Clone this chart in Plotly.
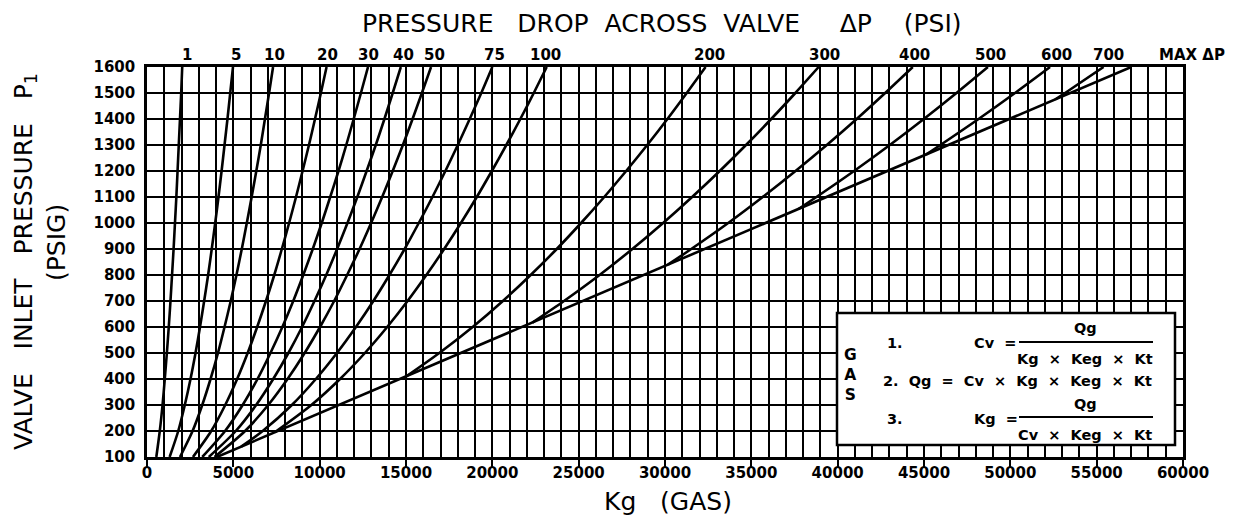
import plotly.graph_objects as go

# ---------------------------------------------------------------------------
# Gas sizing chart: Kg versus valve inlet pressure for constant pressure drops
# ---------------------------------------------------------------------------

# Inlet pressure grid (psig) used by the curve tables below
P_PSIG = [100, 200, 300, 400, 500, 600, 700, 800, 900, 1000, 1100, 1200, 1300, 1400, 1500, 1600]

# Kg along each constant-ΔP curve at the pressures above (None: curve lies on MAX ΔP there)
KG_DP1 = [540, 740, 900, 1030, 1150, 1260, 1360, 1450, 1540, 1620, 1700, 1770, 1840, 1910, 1980, 2040]
KG_DP5 = [1310, 1810, 2190, 2520, 2810, 3070, 3310, 3540, 3750, 3950, 4140, 4320, 4490, 4660, 4820, 4980]
KG_DP10 = [1910, 2640, 3200, 3680, 4110, 4490, 4850, 5180, 5490, 5780, 6060, 6330, 6590, 6830, 7070, 7300]
KG_DP20 = [2660, 3720, 4530, 5220, 5830, 6380, 6890, 7370, 7810, 8230, 8630, 9010, 9380, 9730, 10070, 10400]
KG_DP30 = [3200, 4520, 5540, 6400, 7150, 7840, 8470, 9050, 9600, 10120, 10610, 11090, 11540, 11970, 12390, 12800]
KG_DP40 = [3580, 5140, 6320, 7310, 8190, 8980, 9700, 10380, 11010, 11610, 12180, 12720, 13250, 13750, 14230, 14700]
KG_DP50 = [3910, 5680, 7020, 8140, 9130, 10020, 10840, 11590, 12310, 12980, 13620, 14230, 14820, 15380, 15920, 16450]
KG_DP75 = [None, 6700, 8390, 9780, 11000, 12100, 13110, 14040, 14920, 15740, 16530, 17280, 18000, 18690, 19360, 20000]
KG_DP100 = [None, None, 9520, 11180, 12620, 13910, 15090, 16180, 17210, 18180, 19100, 19970, 20810, 21620, 22400, 23150]
KG_DP200 = [None, None, None, None, 16930, 18860, 20610, 22220, 23730, 25140, 26480, 27750, 28970, 30140, 31260, 32350]
KG_DP300 = [None] * 6 + [24150, 26210, 28110, 29890, 31570, 33170, 34690, 36150, 37550, 38900]
KG_DP400 = [None] * 8 + [31520, 33660, 35660, 37560, 39370, 41100, 42750, 44350]
KG_DP500 = [None] * 10 + [38770, 40950, 43020, 44990, 46880, 48700]
KG_DP600 = [None] * 12 + [45950, 48160, 50270, 52300]
KG_DP700 = [None] * 14 + [53170, 55400]
KG_MAX = [4050, 7580, 11110, 14640, 18170, 21700, 25230, 28760, 32290,
          35820, 39350, 42880, 46410, 49940, 53470, 57000]

DP_VALUES = [1, 5, 10, 20, 30, 40, 50, 75, 100, 200, 300, 400, 500, 600, 700]
DP_TABLES = [KG_DP1, KG_DP5, KG_DP10, KG_DP20, KG_DP30, KG_DP40, KG_DP50, KG_DP75,
             KG_DP100, KG_DP200, KG_DP300, KG_DP400, KG_DP500, KG_DP600, KG_DP700]

# Point where each higher-ΔP curve branches off the MAX ΔP line
JOIN_P = [None] * 7 + [140, 195, 408, 617, 840, 1054, 1263, 1475]
JOIN_KG = [None] * 7 + [5455, 7400, 14970, 22320, 30170, 37730, 45110, 52590]

# Top scale: ΔP labels and the Kg where each sits
DP_LABELS = ["1", "5", "10", "20", "30", "40", "50", "75", "100", "200",
             "300", "400", "500", "600", "700", "MAX ΔP"]
DP_LABEL_KG = [2330, 5170, 7370, 10440, 12810, 14840, 16640, 20110, 23060,
               32560, 39220, 44430, 48830, 52650, 55660, 60530]

X_RANGE = [0, 60000]
Y_RANGE = [100, 1600]
X_TICKS = list(range(0, 60001, 5000))

# ---------------------------------------------------------------------------
W, H = 1233, 521
L, R, T, B = 147, 50, 67, 64
PW, PH = W - L - R, H - T - B


def fx(px):
    """page x pixel -> paper coordinate"""
    return (px - L) / PW


def fy(py):
    """page y pixel -> paper coordinate"""
    return (H - B - py) / PH


def kg_to_paper(kg):
    """Kg value -> paper coordinate along the x axis (also valid past the range)"""
    return (kg - X_RANGE[0]) / (X_RANGE[1] - X_RANGE[0])


TITLE_FONT = dict(family="DejaVu Sans", size=25, color="black")
NUM_FONT = dict(family="DejaVu Sans", size=15, color="black", weight="bold")
BOX_FONT = dict(family="DejaVu Sans", size=14.5, color="black", weight="bold")
NB = "\u00a0"

fig = go.Figure()

for dp, table, jp, jk in zip(DP_VALUES, DP_TABLES, JOIN_P, JOIN_KG):
    xs, ys = [], []
    if jp is not None:
        xs.append(jk)
        ys.append(jp)
    for p, k in zip(P_PSIG, table):
        if k is not None:
            xs.append(k)
            ys.append(p)
    fig.add_trace(go.Scatter(
        x=xs, y=ys, mode="lines", name=f"ΔP {dp}",
        line=dict(color="black", width=2.6, shape="spline", smoothing=0.8),
        hoverinfo="skip"))

fig.add_trace(go.Scatter(
    x=KG_MAX, y=P_PSIG, mode="lines", name="MAX ΔP",
    line=dict(color="black", width=2.6), hoverinfo="skip"))

fig.update_layout(
    width=W, height=H,
    margin=dict(l=L, r=R, t=T, b=B),
    paper_bgcolor="white", plot_bgcolor="white",
    showlegend=False,
    xaxis=dict(
        range=X_RANGE, tickvals=X_TICKS, ticktext=[str(v) for v in X_TICKS],
        ticks="outside", ticklen=7, tickwidth=2, tickcolor="black",
        ticklabelstandoff=-7,
        showgrid=True, gridcolor="black", gridwidth=2,
        minor=dict(dtick=1000, tick0=0, showgrid=True, gridcolor="black", gridwidth=2),
        showline=True, linecolor="black", linewidth=2.5, mirror=True,
        zeroline=False, tickfont=NUM_FONT, fixedrange=True,
    ),
    yaxis=dict(
        range=Y_RANGE, tickvals=P_PSIG, ticktext=[str(v) for v in P_PSIG],
        ticks="", ticklabelstandoff=6,
        showgrid=True, gridcolor="black", gridwidth=2,
        showline=True, linecolor="black", linewidth=2.5, mirror=True,
        zeroline=False, tickfont=NUM_FONT, fixedrange=True,
    ),
)

ann = []

# titles
ann.append(dict(
    text=("PRESSURE" + NB * 3 + "DROP" + NB * 2 + "ACROSS" + NB * 2 + "VALVE"
          + NB * 5 + "ΔP" + NB * 4 + "(PSI)"),
    x=fx(662), y=fy(24), xref="paper", yref="paper",
    xanchor="center", yanchor="middle", showarrow=False, font=TITLE_FONT))
ann.append(dict(
    text="VALVE" + NB * 3 + "INLET" + NB * 3 + "PRESSURE" + NB * 3 + "P<sub>1</sub>",
    x=fx(25), y=fy(262), xref="paper", yref="paper", textangle=-90,
    xanchor="center", yanchor="middle", showarrow=False, font=TITLE_FONT))
ann.append(dict(
    text="(PSIG)", x=fx(57), y=fy(243), xref="paper", yref="paper", textangle=-90,
    xanchor="center", yanchor="middle", showarrow=False, font=TITLE_FONT))
ann.append(dict(
    text="Kg" + NB * 3 + "(GAS)", x=fx(668), y=fy(501), xref="paper", yref="paper",
    xanchor="center", yanchor="middle", showarrow=False, font=TITLE_FONT))

# ΔP scale along the top edge
for lab, kg in zip(DP_LABELS, DP_LABEL_KG):
    ann.append(dict(text=lab, x=kg_to_paper(kg), y=fy(55), xref="paper", yref="paper",
                    xanchor="center", yanchor="middle", showarrow=False, font=NUM_FONT))

# formula box contents
ann.append(dict(text="G<br>A<br>S", x=fx(850), y=fy(375), xref="paper", yref="paper",
                xanchor="center", yanchor="middle", showarrow=False,
                font=dict(family="DejaVu Sans", size=15.5, color="black", weight="bold")))

S2 = NB * 2
box_text = [
    ("1.", 885, 343, "left"),
    ("Cv" + S2 + "=", 972, 343, "left"),
    ("Qg", 1085, 328, "center"),
    ("Kg" + S2 + "×" + S2 + "Keg" + S2 + "×" + S2 + "Kt", 1085, 359, "center"),
    ("2." + S2 + "Qg" + S2 + "=" + S2 + "Cv" + S2 + "×" + S2 + "Kg" + S2 + "×" + S2
     + "Keg" + S2 + "×" + S2 + "Kt", 881, 381, "left"),
    ("3.", 885, 419, "left"),
    ("Kg" + S2 + "=", 972, 419, "left"),
    ("Qg", 1085, 404, "center"),
    ("Cv" + S2 + "×" + S2 + "Keg" + S2 + "×" + S2 + "Kt", 1085, 435, "center"),
]
for txt, px, py, anchor in box_text:
    ann.append(dict(text=txt, x=fx(px), y=fy(py), xref="paper", yref="paper",
                    xanchor=anchor, yanchor="middle", showarrow=False, font=BOX_FONT))

fig.update_layout(annotations=ann)

shapes = [
    dict(type="rect", xref="paper", yref="paper",
         x0=fx(837), x1=fx(1175), y0=fy(445), y1=fy(313),
         fillcolor="white", line=dict(color="black", width=2.5), layer="above"),
    dict(type="line", xref="paper", yref="paper",
         x0=fx(1019), x1=fx(1153), y0=fy(342), y1=fy(342),
         line=dict(color="black", width=2), layer="above"),
    dict(type="line", xref="paper", yref="paper",
         x0=fx(1019), x1=fx(1153), y0=fy(417), y1=fy(417),
         line=dict(color="black", width=2), layer="above"),
]
fig.update_layout(shapes=shapes)

fig.write_html("out.html")
